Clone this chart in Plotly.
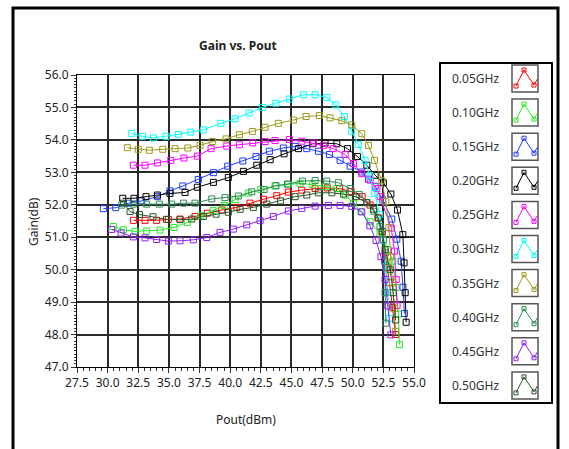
import plotly.graph_objects as go

# ---- measured gain curves (Pout in dBm, Gain in dB) ----
freq_labels = ["0.05GHz", "0.10GHz", "0.15GHz", "0.20GHz", "0.25GHz",
               "0.30GHz", "0.35GHz", "0.40GHz", "0.45GHz", "0.50GHz"]

pout_005 = [32.1, 33.05, 34.0, 34.95, 35.9, 37.13, 38.14, 39.31, 40.54, 41.62, 42.71, 43.8, 44.75,
            45.84, 46.93, 47.93, 48.93, 49.87, 50.77, 51.42, 52.05, 52.4, 52.65, 52.85, 53.0, 53.24, 53.5]
gain_005 = [51.52, 51.52, 51.52, 51.55, 51.56, 51.64, 51.74, 51.84, 51.92, 52.05, 52.17, 52.28, 52.39,
            52.45, 52.5, 52.52, 52.5, 52.41, 52.25, 51.99, 51.6, 51.08, 50.52, 50.06, 49.6, 48.83, 48.0]

pout_010 = [30.46, 31.28, 32.23, 33.19, 34.28, 35.42, 36.5, 37.6, 38.6, 39.5, 40.4, 41.48, 42.5, 43.66,
            44.75, 45.7, 46.74, 47.74, 48.7, 49.38, 50.06, 50.66, 51.42, 52.23, 52.89, 53.27, 53.54, 53.73, 53.81]
gain_010 = [51.33, 51.23, 51.18, 51.19, 51.22, 51.3, 51.45, 51.66, 51.82, 51.98, 52.16, 52.36, 52.47, 52.58,
            52.63, 52.66, 52.62, 52.56, 52.5, 52.3, 52.05, 51.79, 51.48, 51.13, 50.62, 50.26, 49.45, 48.63, 47.69]

pout_015 = [29.65, 30.66, 31.69, 32.78, 34.06, 35.09, 36.13, 37.4, 38.63, 39.8, 41.03, 42.11, 43.2, 44.34,
            45.3, 46.25, 47.2, 48.1, 48.97, 49.79, 50.74, 51.28, 51.83, 52.45, 53.19, 53.6, 53.95, 54.1, 54.22]
gain_015 = [51.88, 51.91, 52.05, 52.12, 52.25, 52.43, 52.58, 52.78, 52.99, 53.19, 53.35, 53.49, 53.65, 53.75,
            53.8, 53.73, 53.65, 53.55, 53.37, 53.19, 53.01, 52.79, 52.57, 52.15, 51.56, 50.94, 50.26, 49.46, 48.65]

pout_020 = [31.23, 32.15, 33.13, 34.06, 35.09, 36.32, 37.32, 38.63, 39.85, 41.08, 42.17, 43.26, 44.4, 45.57,
            46.74, 47.74, 48.7, 49.57, 50.38, 51.15, 51.83, 52.5, 53.11, 53.65, 54.09, 54.19, 54.28, 54.36]
gain_020 = [52.2, 52.2, 52.25, 52.3, 52.35, 52.38, 52.54, 52.69, 52.84, 53.03, 53.22, 53.39, 53.57, 53.73,
            53.88, 53.9, 53.88, 53.73, 53.49, 53.22, 52.91, 52.68, 52.33, 51.84, 51.08, 50.21, 49.29, 48.38]

pout_025 = [32.1, 33.05, 34.06, 35.15, 36.23, 37.32, 38.44, 39.72, 40.75, 41.84, 42.85, 43.66, 44.83, 45.84,
            46.79, 47.6, 48.4, 49.38, 50.06, 50.74, 51.42, 51.97, 52.23, 53.14, 53.41, 53.55, 53.62]
gain_025 = [53.22, 53.22, 53.29, 53.37, 53.44, 53.5, 53.73, 53.81, 53.85, 53.91, 53.95, 53.98, 54.01, 53.96,
            53.9, 53.83, 53.73, 53.55, 53.27, 52.96, 52.76, 52.5, 52.25, 51.28, 50.57, 49.7, 48.9]

pout_030 = [31.97, 32.83, 33.73, 34.77, 35.77, 36.78, 37.81, 39.23, 40.4, 41.54, 42.63, 43.73, 44.83, 45.97,
            46.93, 47.88, 48.62, 49.32, 49.92, 50.46, 51.01, 51.4, 51.8, 52.2, 52.5, 52.7, 52.85, 53.0]
gain_030 = [54.2, 54.11, 54.06, 54.11, 54.17, 54.24, 54.31, 54.51, 54.65, 54.83, 55.0, 55.13, 55.26, 55.39,
            55.39, 55.31, 55.08, 54.72, 54.27, 53.86, 53.37, 52.9, 52.35, 51.7, 50.9, 50.1, 49.3, 48.5]

pout_035 = [31.61, 32.5, 33.4, 34.5, 35.5, 36.54, 37.54, 38.54, 39.66, 40.75, 41.81, 42.85, 43.93, 45.16,
            46.19, 47.28, 48.15, 49.11, 49.92, 50.74, 51.28, 51.77, 52.37, 52.7, 52.95, 53.1, 53.25, 53.4, 53.5]
gain_035 = [53.76, 53.71, 53.68, 53.71, 53.73, 53.75, 53.83, 53.95, 54.03, 54.16, 54.26, 54.39, 54.51, 54.61,
            54.72, 54.75, 54.68, 54.59, 54.46, 54.19, 53.83, 53.37, 52.74, 52.1, 51.3, 50.4, 49.6, 48.8, 48.1]

pout_040 = [31.15, 32.1, 33.19, 34.22, 35.23, 36.18, 37.13, 38.5, 39.58, 40.67, 41.76, 42.77, 43.74, 44.68,
            45.9, 46.93, 47.88, 48.83, 49.79, 50.53, 51.15, 51.74, 52.23, 52.5, 52.6, 52.64, 52.7]
gain_040 = [51.99, 52.02, 52.02, 52.02, 52.02, 52.05, 52.05, 52.18, 52.22, 52.27, 52.4, 52.47, 52.59, 52.64,
            52.73, 52.75, 52.73, 52.68, 52.5, 52.32, 52.07, 51.8, 51.33, 50.92, 50.26, 49.29, 48.35]

pout_045 = [30.33, 31.1, 32.1, 33.05, 34.0, 34.95, 35.91, 36.99, 38.09, 39.17, 40.26, 41.35, 42.44, 43.52,
            44.75, 45.84, 46.93, 48.01, 48.97, 49.92, 50.74, 51.4, 51.9, 52.3, 52.64, 52.86, 53.11]
gain_045 = [51.24, 51.13, 51.01, 50.98, 50.93, 50.88, 50.89, 50.92, 50.99, 51.15, 51.25, 51.38, 51.51, 51.64,
            51.81, 51.89, 51.96, 51.98, 51.98, 51.95, 51.78, 51.35, 50.9, 50.4, 49.7, 48.88, 47.99]

pout_050 = [31.3, 31.83, 32.6, 33.7, 34.8, 35.91, 36.86, 37.81, 38.85, 39.85, 40.81, 41.89, 42.99, 44.1,
            45.3, 46.25, 47.2, 48.3, 49.24, 50.26, 51.15, 51.69, 52.1, 52.4, 52.64, 53.05, 53.3, 53.5]
gain_050 = [52.05, 51.79, 51.7, 51.63, 51.55, 51.54, 51.56, 51.64, 51.71, 51.77, 51.86, 51.92, 52.02, 52.12,
            52.25, 52.3, 52.37, 52.37, 52.33, 52.25, 52.06, 51.86, 51.59, 51.18, 50.62, 50.0, 49.29, 48.45]

pout_sets = [pout_005, pout_010, pout_015, pout_020, pout_025,
             pout_030, pout_035, pout_040, pout_045, pout_050]
gain_sets = [gain_005, gain_010, gain_015, gain_020, gain_025,
             gain_030, gain_035, gain_040, gain_045, gain_050]

colors = ["#FF0000", "#22EE22", "#1F3CFF", "#000000", "#FF00FF",
          "#00FFFF", "#9C9A1C", "#2E8B57", "#8F1FFF", "#2A552A"]

FONT = "Noto Sans, Open Sans, DejaVu Sans, sans-serif"

fig = go.Figure()
for name, xs, ys, c in zip(freq_labels, pout_sets, gain_sets, colors):
    fig.add_trace(go.Scatter(
        x=xs, y=ys, name=name, mode="lines+markers",
        line=dict(color=c, width=1),
        marker=dict(symbol="square-open", size=6, color=c, line=dict(width=1)),
        showlegend=False,
    ))

# plot-area edges in pixels, used to place the frame, legend and labels
W, H = 569, 449
PL, PR, PT, PB = 77, 414, 75, 367


def px(x):
    return (x - PL) / (PR - PL)


def py(y):
    return (PB - y) / (PB - PT)


shapes = []
annotations = []

# outer frame around the whole chart
shapes.append(dict(type="rect", xref="paper", yref="paper",
                   x0=px(13), x1=px(558), y0=py(470), y1=py(8),
                   line=dict(color="black", width=3), layer="above"))

# legend panel
shapes.append(dict(type="rect", xref="paper", yref="paper",
                   x0=px(440), x1=px(552), y0=py(403), y1=py(63),
                   line=dict(color="black", width=2), layer="above"))

row0, row_step = 78.5, 34.1
box_l, box_w, box_h = 512, 26, 27
for i, (name, c) in enumerate(zip(freq_labels, colors)):
    cy = row0 + i * row_step
    top = cy - box_h / 2
    annotations.append(dict(text=name, xref="paper", yref="paper",
                            x=px(501), y=py(cy), xanchor="right", yanchor="middle",
                            showarrow=False, font=dict(family=FONT, size=12, color="#333333")))
    shapes.append(dict(type="rect", xref="paper", yref="paper",
                       x0=px(box_l), x1=px(box_l + box_w), y0=py(top + box_h), y1=py(top),
                       line=dict(color="#555555", width=1.5)))
    pts = [(4, 21), (12, 5), (22, 20), (25.5, 14)]
    path = "M " + " L ".join(f"{px(box_l + a):.5f},{py(top + b):.5f}" for a, b in pts)
    shapes.append(dict(type="path", xref="paper", yref="paper", path=path,
                       line=dict(color=c, width=1)))
    for a, b in pts[:3]:
        shapes.append(dict(type="rect", xref="paper", yref="paper",
                           x0=px(box_l + a - 2), x1=px(box_l + a + 2),
                           y0=py(top + b + 2), y1=py(top + b - 2),
                           line=dict(color=c, width=1)))

# chart title and axis titles
annotations.append(dict(text="<b>Gain vs. Pout</b>", xref="paper", yref="paper",
                        x=px(238), y=py(46), xanchor="center", yanchor="middle",
                        showarrow=False, font=dict(family=FONT, size=12, color="#222222")))
annotations.append(dict(text="Pout(dBm)", xref="paper", yref="paper",
                        x=px(246), y=py(419), xanchor="center", yanchor="middle",
                        showarrow=False, font=dict(family=FONT, size=12, color="#222222")))
annotations.append(dict(text="Gain(dB)", xref="paper", yref="paper",
                        x=px(33), y=py(221), xanchor="center", yanchor="middle",
                        textangle=-90, showarrow=False,
                        font=dict(family=FONT, size=12, color="#222222")))

fig.update_layout(
    width=W, height=H,
    margin=dict(l=PL, r=W - PR, t=PT, b=H - PB, pad=0),
    paper_bgcolor="white", plot_bgcolor="white",
    font=dict(family=FONT, size=12, color="#222222"),
    shapes=shapes, annotations=annotations,
    xaxis=dict(range=[27.5, 55.0], dtick=2.5, tick0=27.5, tickformat=".1f",
               showgrid=True, gridcolor="#2a2a2a", gridwidth=1.6,
               showline=True, linecolor="black", linewidth=1, mirror=True,
               ticks="outside", ticklen=5, tickcolor="#333333",
               minor=dict(dtick=0.5, ticks="outside", ticklen=3, tickcolor="#333333", showgrid=False),
               zeroline=False, fixedrange=True),
    yaxis=dict(range=[47.0, 56.0], dtick=1.0, tick0=47, tickformat=".1f",
               showgrid=True, gridcolor="#2a2a2a", gridwidth=1.6,
               showline=True, linecolor="black", linewidth=1, mirror=True,
               ticks="outside", ticklen=5, tickcolor="#333333",
               minor=dict(dtick=0.1, ticks="outside", ticklen=2, tickcolor="#333333", showgrid=False),
               zeroline=False, fixedrange=True),
)

fig.write_html("out.html")
